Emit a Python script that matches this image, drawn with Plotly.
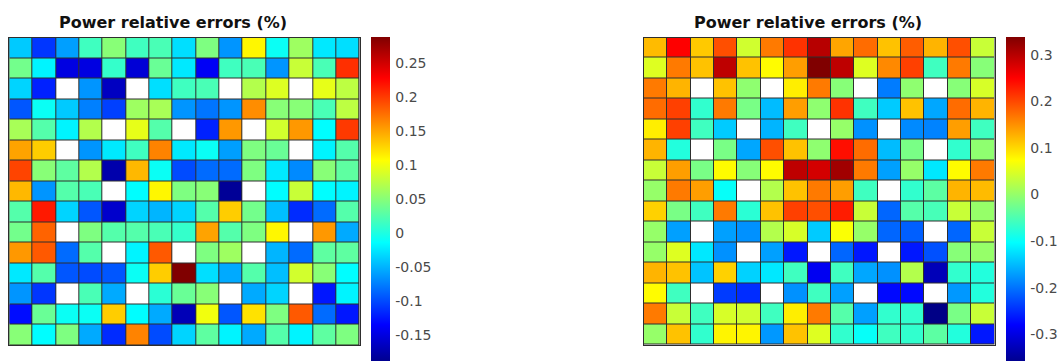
import plotly.graph_objects as go

N = None
cols = list(range(1, 16))
rows = list(range(1, 16))

left_values = [
    [-0.04, -0.11, -0.06, 0.015, 0.05, 0.015, 0.02, -0.03, 0.045, -0.065, 0.11, -0.01, 0.06, -0.025, -0.03],
    [0.04, -0.02, -0.15, -0.15, 0.01, -0.155, 0.035, -0.025, -0.14, 0.015, 0.02, -0.065, 0.08, 0.02, 0.205],
    [-0.035, -0.12, N, -0.065, -0.165, N, -0.03, 0.015, 0.02, N, 0.07, 0.09, N, 0.095, 0.075],
    [-0.095, -0.01, -0.04, -0.075, -0.105, 0.06, 0.065, -0.065, -0.08, -0.065, 0.16, 0.05, 0.05, 0.02, 0.075],
    [0.065, 0.025, -0.02, 0.07, N, 0.095, 0.025, N, -0.12, 0.155, N, 0.085, 0.155, -0.015, 0.2],
    [0.15, 0.13, N, -0.065, -0.025, 0.015, 0.165, -0.025, -0.01, -0.06, 0.045, 0.035, N, -0.02, 0.025],
    [0.195, 0.05, 0.03, 0.07, -0.175, 0.14, -0.01, -0.1, -0.085, -0.085, 0.045, -0.025, -0.07, 0.05, 0.03],
    [0.14, -0.065, 0.025, 0.02, N, -0.015, 0.11, 0.045, 0.05, -0.185, N, -0.015, 0.08, -0.015, -0.02],
    [0.025, 0.215, -0.035, -0.095, -0.16, -0.035, -0.05, -0.035, 0.025, 0.13, 0.04, -0.045, -0.115, -0.085, 0.025],
    [0.04, 0.18, N, 0.045, 0.025, 0.025, 0.02, 0.01, 0.15, 0.025, 0.045, 0.11, N, 0.155, -0.055],
    [0.155, 0.185, -0.085, 0.025, N, -0.02, 0.185, N, 0.045, 0.06, N, -0.05, -0.085, 0.03, 0.03],
    [-0.025, 0.025, -0.095, -0.1, -0.095, -0.01, 0.13, 0.2875, -0.03, -0.055, 0.025, -0.045, 0.085, 0.05, -0.015],
    [-0.065, -0.11, N, 0.02, -0.055, N, 0.005, 0.035, 0.05, N, -0.055, -0.035, N, -0.125, -0.02],
    [-0.13, 0.035, -0.01, -0.01, 0.13, -0.015, -0.055, -0.17, 0.1, -0.095, 0.12, 0.045, 0.185, -0.085, -0.125],
    [0.05, -0.015, 0.045, -0.055, -0.115, 0.165, -0.1, -0.035, 0.03, -0.02, -0.055, 0.025, -0.02, 0.03, 0.045],
]

right_values = [
    [0.12, 0.25, 0.11, 0.195, 0.04, 0.165, 0.215, 0.3, 0.135, 0.175, 0.115, 0.185, 0.125, 0.195, 0.035],
    [0.05, 0.165, 0.115, 0.295, 0.115, 0.075, 0.14, 0.338, 0.295, 0.05, 0.155, 0.205, -0.06, 0.165, -0.01],
    [0.165, 0.125, N, 0.115, -0.005, N, 0.085, 0.165, -0.01, N, -0.195, -0.005, N, -0.01, 0.045],
    [0.175, 0.205, -0.07, 0.165, -0.02, -0.15, 0.14, -0.005, 0.215, -0.06, -0.14, 0.115, -0.165, 0.175, 0.125],
    [0.085, 0.205, -0.06, -0.14, N, -0.155, -0.06, N, 0.0, -0.18, N, -0.185, -0.19, 0.14, -0.06],
    [0.125, -0.08, N, -0.02, -0.165, 0.195, 0.115, -0.005, 0.24, 0.175, -0.15, -0.02, N, -0.07, -0.005],
    [0.035, 0.14, -0.02, 0.075, -0.01, 0.075, 0.295, 0.28, 0.315, 0.165, -0.17, 0.0, -0.12, 0.075, 0.165],
    [0.0, 0.165, 0.14, -0.1, N, 0.02, 0.115, 0.165, 0.14, -0.06, N, -0.07, -0.04, 0.125, 0.12],
    [0.105, -0.02, -0.06, 0.165, -0.075, 0.115, 0.205, 0.195, 0.23, 0.035, -0.21, -0.045, -0.055, 0.035, 0.0],
    [0.0, -0.17, N, -0.17, -0.18, 0.02, 0.045, -0.14, 0.07, 0.0, -0.21, -0.215, N, -0.21, 0.035],
    [0.0, 0.05, -0.12, -0.18, N, -0.17, -0.265, N, -0.21, -0.265, N, -0.265, -0.225, -0.01, 0.0],
    [0.125, 0.115, -0.145, 0.105, -0.135, -0.12, -0.06, -0.29, -0.06, -0.165, -0.18, 0.02, -0.33, -0.07, -0.08],
    [0.075, -0.06, N, -0.24, -0.25, N, -0.18, -0.06, -0.17, N, -0.275, -0.275, N, -0.175, -0.08],
    [0.165, 0.035, -0.06, 0.045, 0.04, -0.06, 0.085, 0.165, -0.045, -0.17, -0.07, -0.07, -0.365, -0.02, 0.035],
    [0.0, 0.115, -0.07, 0.08, 0.08, -0.175, 0.115, 0.05, -0.07, -0.1, -0.06, -0.07, -0.04, -0.08, -0.265],
]

left_ticks = [-0.15, -0.1, -0.05, 0, 0.05, 0.1, 0.15, 0.2, 0.25]
left_ticktext = ["-0.15", "-0.1", "-0.05", "0", "0.05", "0.1", "0.15", "0.2", "0.25"]
right_ticks = [-0.3, -0.2, -0.1, 0, 0.1, 0.2, 0.3]
right_ticktext = ["-0.3", "-0.2", "-0.1", "0", "0.1", "0.2", "0.3"]
title_text = "Power relative errors (%)"

left_range = (-0.196, 0.2875)
right_range = (-0.369, 0.338)

jet = [
    [0.0, "#000080"],
    [0.125, "#0000ff"],
    [0.375, "#00ffff"],
    [0.625, "#ffff00"],
    [0.875, "#ff0000"],
    [1.0, "#800000"],
]

W, H = 1063, 361
TITLE_FONT = "DejaVu Sans, Liberation Sans, Arial, sans-serif"
TICK_FONT = "DejaVu Sans, Liberation Sans, Arial, sans-serif"
GRID = "#2e2e2e"


def mask(z):
    return [[1 if v is None else None for v in row] for row in z]


fig = go.Figure()


def add_panel(z, rng, ticks, ticktext, xa, ya, cbx):
    fig.add_trace(go.Heatmap(
        z=mask(z), x=cols, y=rows, xaxis=xa, yaxis=ya,
        colorscale=[[0, "#ffffff"], [1, "#ffffff"]], showscale=False,
        xgap=1, ygap=1, hoverinfo="skip",
    ))
    fig.add_trace(go.Heatmap(
        z=z, x=cols, y=rows, xaxis=xa, yaxis=ya,
        colorscale=jet, zmin=rng[0], zmax=rng[1],
        xgap=1, ygap=1,
        colorbar=dict(
            x=cbx, xref="container", xanchor="left",
            y=1 - 37.3 / H, yref="container", yanchor="top",
            len=(366 - 37.3) / H, lenmode="fraction",
            thickness=19, thicknessmode="pixels",
            xpad=0, ypad=0, outlinewidth=0,
            tickvals=ticks, ticktext=ticktext,
            ticks="outside", ticklen=3, tickcolor="rgba(0,0,0,0)",
            tickfont=dict(family=TICK_FONT, size=14, color="#4a4a4a"),
        ),
    ))


add_panel(left_values, left_range, left_ticks, left_ticktext, "x", "y", 370.7 / W)
add_panel(right_values, right_range, right_ticks, right_ticktext, "x2", "y2", 1006 / W)

ax_common = dict(showgrid=False, zeroline=False, showticklabels=False, ticks="",
                 showline=True, linecolor=GRID, linewidth=1, mirror=True)

fig.update_layout(
    width=W, height=H,
    margin=dict(l=0, r=0, t=0, b=0, autoexpand=False),
    paper_bgcolor="white",
    plot_bgcolor=GRID,
    showlegend=False,
    xaxis=dict(domain=[9.3 / W, 359.5 / W], range=[0.5, 15.5], **ax_common),
    yaxis=dict(domain=[1 - 345 / H, 1 - 37.5 / H], range=[15.5, 0.5], **ax_common),
    xaxis2=dict(domain=[644 / W, 994.5 / W], range=[0.5, 15.5], anchor="y2", **ax_common),
    yaxis2=dict(domain=[1 - 344.5 / H, 1 - 37.5 / H], range=[15.5, 0.5], anchor="x2", **ax_common),
    annotations=[
        dict(text="<b>" + title_text + "</b>", x=172.5 / W, y=1 - 22.5 / H, xref="paper", yref="paper",
             xanchor="center", yanchor="middle", showarrow=False,
             font=dict(family=TITLE_FONT, size=16, color="#111")),
        dict(text="<b>" + title_text + "</b>", x=808 / W, y=1 - 22.5 / H, xref="paper", yref="paper",
             xanchor="center", yanchor="middle", showarrow=False,
             font=dict(family=TITLE_FONT, size=16, color="#111")),
    ],
)

fig.write_html(
    "out.html",
    config={"displayModeBar": False},
    post_script="document.body.style.margin='0';document.body.style.overflow='hidden';",
)
